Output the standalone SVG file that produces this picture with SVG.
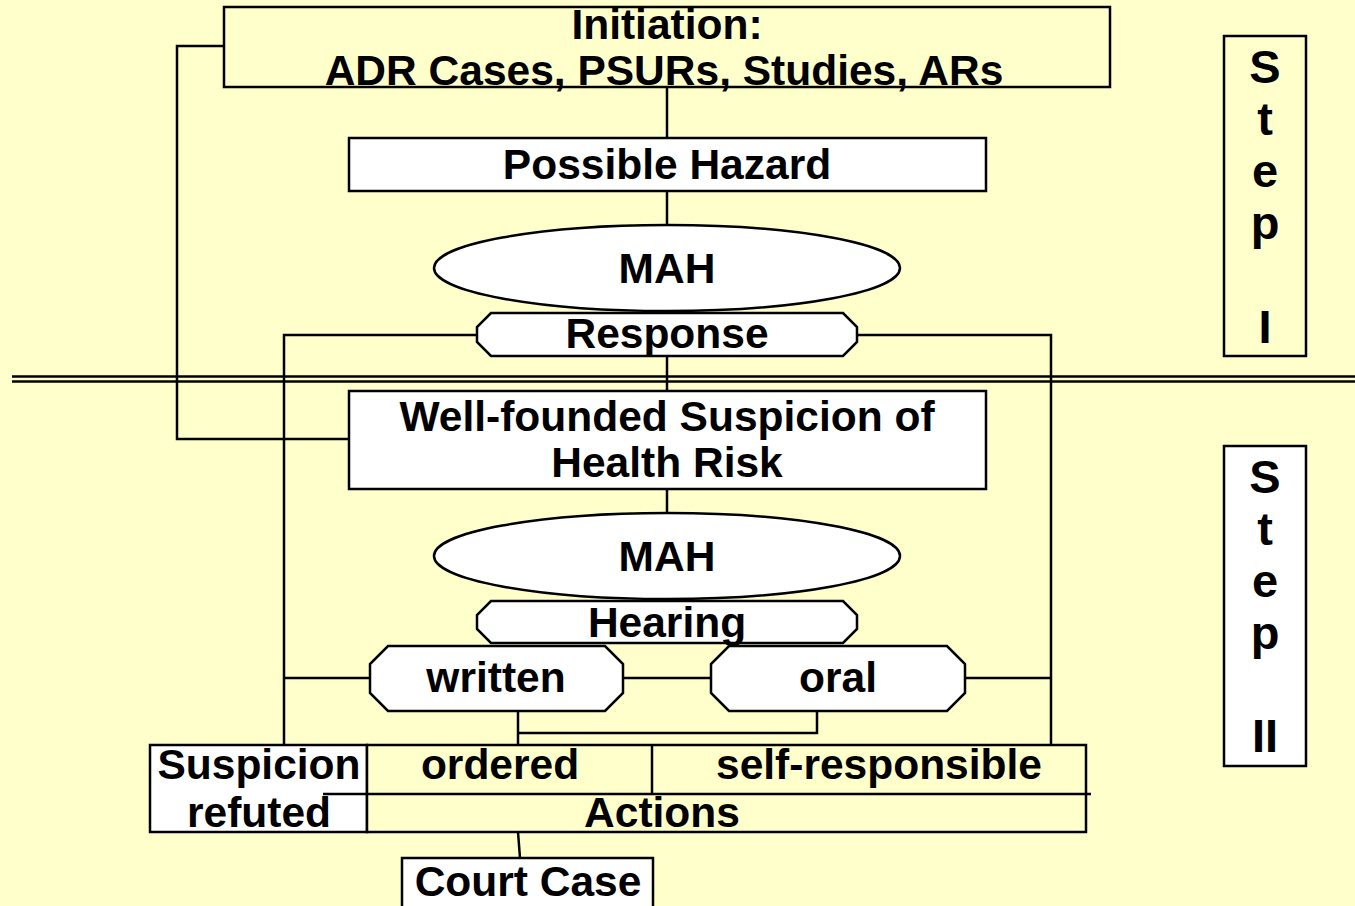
<svg xmlns="http://www.w3.org/2000/svg" width="1355" height="906" viewBox="0 0 1355 906">
<style>
.t{font-family:"Liberation Sans",Arial,sans-serif;font-weight:bold;font-size:42.5px;fill:#000;text-anchor:middle}
.s{font-family:"Liberation Sans",Arial,sans-serif;font-weight:bold;font-size:47px;fill:#000;text-anchor:middle}
.w{fill:#fff;stroke:#000;stroke-width:2.5}
.y{fill:#ffffcc;stroke:#000;stroke-width:2.5}
.c{fill:none;stroke:#000;stroke-width:2.5}
</style>
<rect width="1355" height="906" fill="#ffffcc"/>
<g id="connectors">
<line class="c" x1="12" y1="376.5" x2="1355" y2="376.5"/>
<line class="c" x1="12" y1="381.5" x2="1355" y2="381.5"/>
<polyline class="c" points="224,46 177,46 177,439 349,439"/>
<line class="c" x1="667" y1="87" x2="667" y2="138"/>
<line class="c" x1="667" y1="191" x2="667" y2="225"/>
<line class="c" x1="667" y1="357" x2="667" y2="391"/>
<line class="c" x1="667" y1="489" x2="667" y2="513"/>
<polyline class="c" points="477,335 284,335 284,745"/>
<polyline class="c" points="857,335 1051,335 1051,745"/>
<line class="c" x1="284" y1="678" x2="370" y2="678"/>
<line class="c" x1="623" y1="678" x2="711" y2="678"/>
<line class="c" x1="965" y1="678" x2="1051" y2="678"/>
<line class="c" x1="518" y1="712" x2="518" y2="745"/>
<polyline class="c" points="518,733 817,733 817,712"/>
<line class="c" x1="518" y1="832" x2="520" y2="858"/>
</g>
<g id="initiation">
<rect class="y" x="224" y="7" width="886" height="80"/>
<text class="t" x="667" y="39">Initiation:</text>
<text class="t" x="664" y="85">ADR Cases, PSURs, Studies, ARs</text>
</g>
<g id="possible-hazard">
<rect class="w" x="349" y="138" width="637" height="53"/>
<text class="t" x="667" y="179">Possible Hazard</text>
</g>
<g id="mah1">
<ellipse class="w" cx="667" cy="268" rx="233" ry="43"/>
<text class="t" x="667" y="283">MAH</text>
</g>
<g id="response">
<polygon class="w" points="491,313 843,313 857,327 857,342 843,356 491,356 477,342 477,327"/>
<text class="t" x="667" y="348">Response</text>
</g>
<g id="well-founded">
<rect class="w" x="349" y="391" width="637" height="98"/>
<text class="t" x="667" y="431">Well-founded Suspicion of</text>
<text class="t" x="667" y="477">Health Risk</text>
</g>
<g id="mah2">
<ellipse class="w" cx="667" cy="556" rx="233" ry="43"/>
<text class="t" x="667" y="571">MAH</text>
</g>
<g id="hearing">
<polygon class="w" points="491,601 843,601 857,615 857,629 843,643 491,643 477,629 477,615"/>
<text class="t" x="667" y="637">Hearing</text>
</g>
<g id="written">
<polygon class="w" points="388,646 605,646 623,664 623,693 605,711 388,711 370,693 370,664"/>
<text class="t" x="496" y="692">written</text>
</g>
<g id="oral">
<polygon class="w" points="729,646 947,646 965,664 965,693 947,711 729,711 711,693 711,664"/>
<text class="t" x="838" y="692">oral</text>
</g>
<g id="suspicion-refuted">
<rect class="w" x="150" y="745" width="217" height="87"/>
<text class="t" x="259" y="779">Suspicion</text>
<text class="t" x="259" y="827">refuted</text>
</g>
<g id="actions">
<rect class="y" x="367" y="745" width="719" height="87"/>
<line class="c" x1="323" y1="794" x2="1091" y2="794"/>
<line class="c" x1="652" y1="745" x2="652" y2="794"/>
<text class="t" x="500" y="779">ordered</text>
<text class="t" x="879" y="779">self-responsible</text>
<text class="t" x="662" y="827">Actions</text>
</g>
<g id="court-case">
<rect class="w" x="402" y="858" width="251" height="60"/>
<text class="t" x="528" y="896">Court Case</text>
</g>
<g id="step1">
<rect class="y" x="1224" y="36" width="82" height="320"/>
<text class="s" x="1265" y="83">S</text>
<text class="s" x="1265" y="135">t</text>
<text class="s" x="1265" y="187">e</text>
<text class="s" x="1265" y="239">p</text>
<text class="s" x="1265" y="343">I</text>
</g>
<g id="step2">
<rect class="w" x="1224" y="446" width="82" height="320"/>
<text class="s" x="1265" y="493">S</text>
<text class="s" x="1265" y="545">t</text>
<text class="s" x="1265" y="597">e</text>
<text class="s" x="1265" y="649">p</text>
<text class="s" x="1265" y="752">II</text>
</g>
</svg>
